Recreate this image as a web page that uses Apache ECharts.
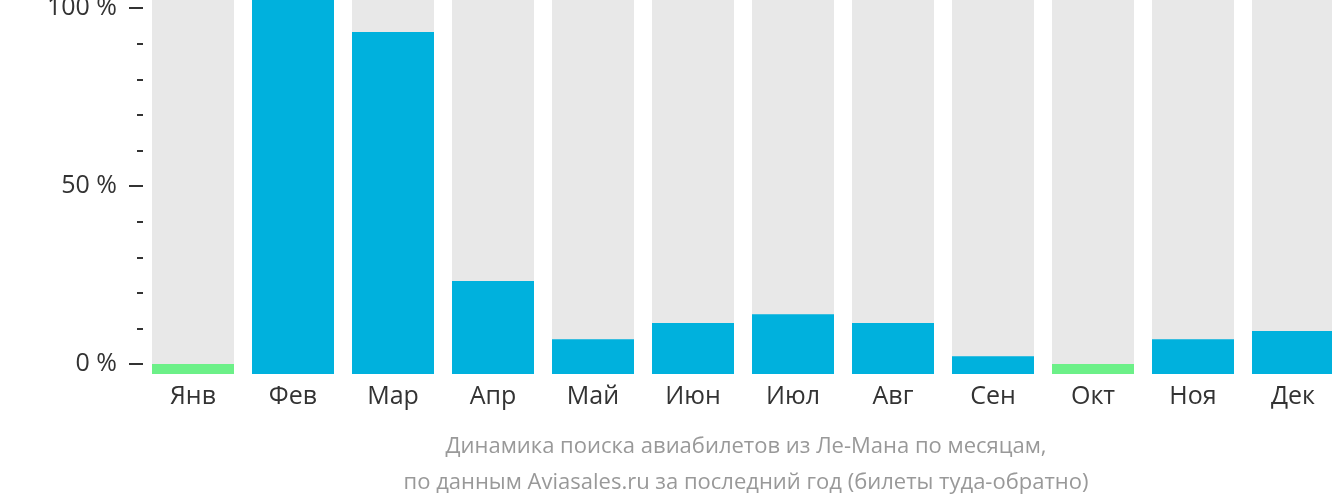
<!DOCTYPE html>
<html>
<head>
<meta charset="utf-8">
<script src="https://cdn.jsdelivr.net/npm/echarts@6/dist/echarts.min.js"></script>
<style>
html,body{margin:0;padding:0;background:#fff;}
#chart{width:1332px;height:502px;}
</style>
</head>
<body>
<div id="chart"></div>
<script>
const months = ['Янв','Фев','Мар','Апр','Май','Июн','Июл','Авг','Сен','Окт','Ноя','Дек'];
const values = [0, 102.3, 93.3, 23.3, 7.0, 11.5, 14.0, 11.5, 2.2, 0, 7.0, 9.3];
const majorTicks = [0, 50, 100];
const minorTicks = [10, 20, 30, 40, 60, 70, 80, 90];
const titleLines = ['Динамика поиска авиабилетов из Ле-Мана по месяцам,', 'по данным Aviasales.ru за последний год (билеты туда-обратно)'];

const AXIS_MIN = -2.8, AXIS_MAX = 102.3;
const FONT = '"Open Sans", "Noto Sans", sans-serif';

const chart = echarts.init(document.getElementById('chart'), null, {renderer: 'canvas'});
chart.setOption({
  animation: false,
  textStyle: {fontFamily: FONT},
  title: {
    text: titleLines.join('\n'),
    left: 741,
    top: 424,
    textAlign: 'center',
    textStyle: {fontFamily: FONT, fontSize: 22, fontWeight: 'normal', color: '#999999', lineHeight: 36}
  },
  grid: {left: 143, top: 0, right: -11, bottom: 128, containLabel: false, outerBoundsMode: 'none'},
  xAxis: {
    type: 'category',
    data: months,
    axisLine: {show: false},
    axisTick: {show: false},
    axisLabel: {fontFamily: FONT, fontSize: 25, color: '#333333', margin: 10}
  },
  yAxis: [
    {
      type: 'value', min: AXIS_MIN, max: AXIS_MAX, startValue: AXIS_MIN,
      position: 'left',
      axisLine: {show: false},
      splitLine: {show: false},
      axisTick: {show: true, customValues: majorTicks, length: 14, inside: false, lineStyle: {color: '#333333', width: 2}},
      axisLabel: {customValues: majorTicks, formatter: '{value} %', fontFamily: FONT, fontSize: 25, color: '#333333', margin: 26}
    },
    {
      type: 'value', min: AXIS_MIN, max: AXIS_MAX,
      position: 'left', offset: 0,
      axisLine: {show: false},
      splitLine: {show: false},
      axisTick: {show: true, customValues: minorTicks, length: 6, lineStyle: {color: '#333333', width: 2}},
      axisLabel: {show: false}
    }
  ],
  series: [{
    type: 'bar',
    yAxisIndex: 0,
    data: values,
    barWidth: 82,
    showBackground: true,
    backgroundStyle: {color: '#e8e8e8'},
    itemStyle: {
      color: function (p) { return p.value <= 0.5 ? '#6cf088' : '#00b1dd'; }
    }
  }]
});
</script>
</body>
</html>
